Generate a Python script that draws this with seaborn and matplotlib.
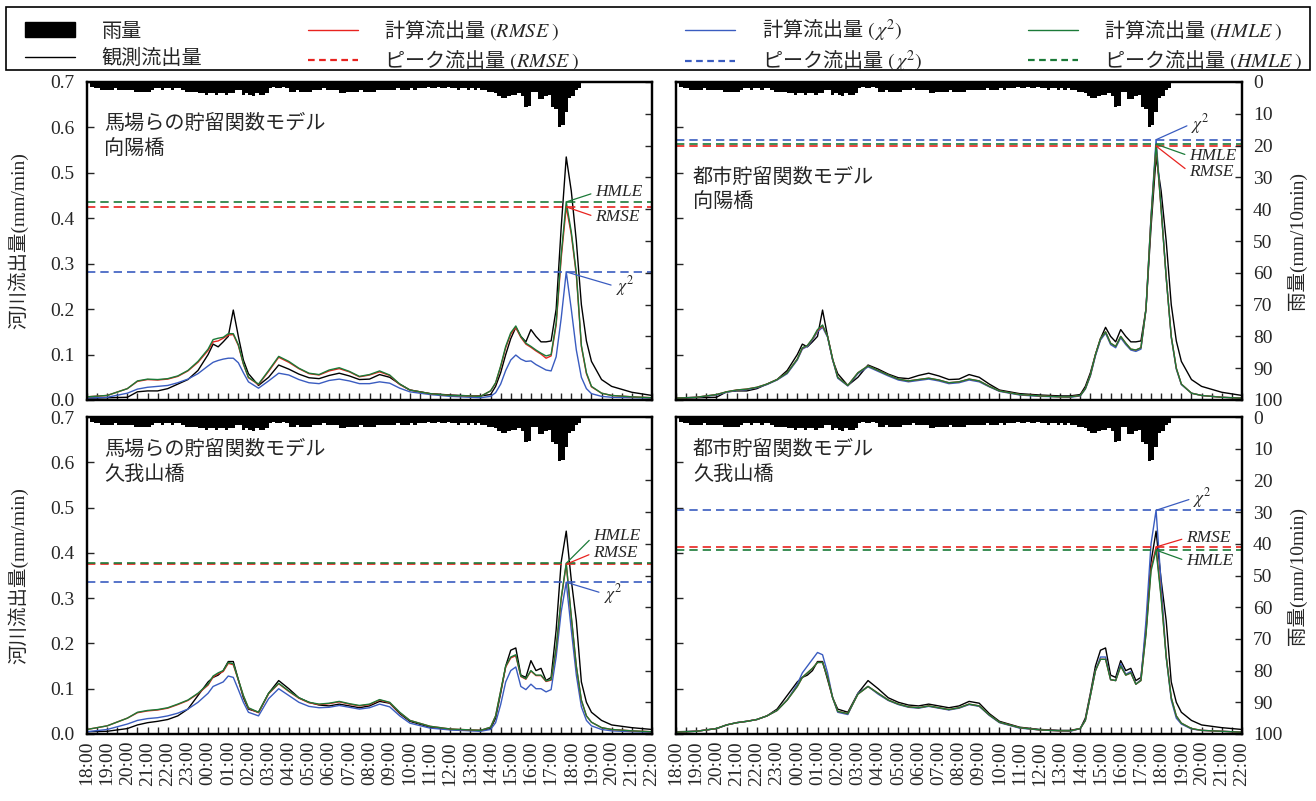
import numpy as np
import pandas as pd
import matplotlib
matplotlib.use("Agg")
import matplotlib.pyplot as plt
from matplotlib.patches import Patch, Rectangle
from matplotlib.lines import Line2D
from matplotlib.font_manager import FontProperties
from matplotlib.ticker import FormatStrFormatter
import seaborn as sns

sns.set_theme(style="ticks")
plt.rcParams['font.family'] = ['Liberation Serif', 'Noto Sans CJK JP']
plt.rcParams['mathtext.fontset'] = 'stix'
plt.rcParams['axes.unicode_minus'] = False

# hours after 18:00 (shared time grid of the flow series)
hours = [0, 1, 2, 2.5, 3, 3.5, 4,
         4.5, 5, 5.5, 6, 6.25, 6.5, 6.75, 7,
         7.25, 7.5, 7.75, 8, 8.5, 9, 9.5, 10,
         10.5, 11, 11.5, 12, 12.5, 13, 13.5, 14,
         14.5, 15, 15.5, 16, 17, 18, 19, 19.5,
         20, 20.25, 20.5, 20.75, 21, 21.25, 21.5, 21.75,
         22, 22.25, 22.5, 22.75, 23, 23.25, 23.5, 23.75,
         24, 24.25, 24.5, 24.75, 25, 25.5, 26, 27, 28]

time_labels = ["18:00", "19:00", "20:00", "21:00", "22:00", "23:00", "00:00",
               "01:00", "02:00", "03:00", "04:00", "05:00", "06:00", "07:00",
               "08:00", "09:00", "10:00", "11:00", "12:00", "13:00", "14:00",
               "15:00", "16:00", "17:00", "18:00", "19:00", "20:00", "21:00", "22:00"]

# rainfall, mm per 10 min, from 18:00
rain_mm = [0.0, 1.5, 2.0, 2.0, 2.5, 2.5,
           2.5, 2.5, 2.0, 2.5, 2.5, 2.5,
           2.5, 2.5, 3.0, 3.0, 3.0, 3.0,
           3.0, 2.5, 2.0, 2.0, 2.5, 2.0,
           2.0, 2.5, 2.0, 2.0, 2.5, 3.0,
           3.0, 3.0, 3.0, 3.5, 3.5, 4.0,
           3.5, 3.5, 4.0, 3.5, 3.5, 4.0,
           3.5, 3.5, 2.5, 2.5, 4.0, 3.5,
           4.0, 4.5, 3.5, 4.0, 4.0, 3.5,
           2.0, 1.5, 2.0, 2.0, 1.5, 2.0,
           3.0, 3.0, 2.5, 3.0, 3.0, 3.0,
           3.0, 2.5, 2.5, 2.5, 2.0, 2.5,
           2.5, 2.5, 2.5, 3.5, 3.5, 3.0,
           3.0, 3.0, 3.0, 2.5, 3.0, 3.0,
           3.0, 3.0, 2.5, 2.5, 2.5, 2.5,
           2.5, 2.5, 2.0, 2.5, 2.5, 2.5,
           2.0, 2.5, 2.0, 2.0, 2.0, 1.5,
           2.0, 2.0, 1.5, 2.0, 2.0, 1.5,
           2.0, 2.0, 2.5, 2.0, 2.0, 2.5,
           2.0, 2.5, 2.0, 2.5, 2.5, 3.0,
           3.0, 3.5, 4.5, 5.0, 5.0, 4.5,
           4.0, 4.0, 3.5, 4.5, 8.0, 7.5,
           3.0, 3.0, 5.5, 5.5, 4.5, 4.0,
           8.0, 8.5, 14.0, 13.5, 9.5, 5.0,
           4.5, 2.5, 2.0, 0.0, 0.0, 0.0]

# observed discharge (mm/min)
obs_kouyou = [0.004, 0.005, 0.006, 0.018, 0.020, 0.020, 0.025,
              0.035, 0.045, 0.065, 0.100, 0.123, 0.117, 0.128, 0.140,
              0.198, 0.140, 0.088, 0.058, 0.032, 0.050, 0.077, 0.068,
              0.057, 0.049, 0.047, 0.054, 0.059, 0.053, 0.045, 0.046,
              0.056, 0.050, 0.035, 0.022, 0.014, 0.011, 0.009, 0.009,
              0.012, 0.030, 0.060, 0.100, 0.135, 0.160, 0.140, 0.128,
              0.155, 0.140, 0.128, 0.128, 0.130, 0.200, 0.380, 0.535,
              0.460, 0.350, 0.210, 0.130, 0.085, 0.045, 0.030, 0.017, 0.010]
obs_kugayama = [0.005, 0.006, 0.012, 0.020, 0.025, 0.028, 0.032,
                0.040, 0.055, 0.085, 0.115, 0.125, 0.130, 0.140, 0.160,
                0.160, 0.120, 0.080, 0.055, 0.048, 0.090, 0.118, 0.100,
                0.080, 0.070, 0.064, 0.062, 0.066, 0.062, 0.058, 0.062,
                0.072, 0.068, 0.045, 0.028, 0.015, 0.010, 0.008, 0.008,
                0.012, 0.035, 0.090, 0.150, 0.185, 0.190, 0.130, 0.125,
                0.162, 0.140, 0.145, 0.118, 0.125, 0.230, 0.380, 0.448,
                0.340, 0.250, 0.115, 0.070, 0.048, 0.030, 0.020, 0.014, 0.010]

# Baba storage function model, Kouyou bridge
tl_rmse = [0.007, 0.010, 0.025, 0.041, 0.045, 0.044, 0.046,
           0.052, 0.064, 0.083, 0.109, 0.128, 0.130, 0.136, 0.143,
           0.144, 0.120, 0.079, 0.049, 0.034, 0.063, 0.094, 0.083,
           0.069, 0.058, 0.055, 0.064, 0.069, 0.062, 0.051, 0.055,
           0.062, 0.054, 0.034, 0.022, 0.014, 0.010, 0.009, 0.008,
           0.020, 0.037, 0.073, 0.115, 0.145, 0.160, 0.138, 0.123,
           0.116, 0.108, 0.101, 0.092, 0.097, 0.165, 0.312, 0.425,
           0.365, 0.275, 0.118, 0.058, 0.029, 0.015, 0.010, 0.007, 0.005]
tl_chi2 = [0.004, 0.006, 0.015, 0.024, 0.028, 0.030, 0.032,
           0.038, 0.046, 0.058, 0.075, 0.083, 0.087, 0.090, 0.092,
           0.092, 0.082, 0.060, 0.040, 0.026, 0.042, 0.059, 0.055,
           0.045, 0.038, 0.036, 0.043, 0.046, 0.042, 0.036, 0.036,
           0.040, 0.037, 0.026, 0.018, 0.012, 0.008, 0.006, 0.005,
           0.008, 0.016, 0.035, 0.065, 0.088, 0.099, 0.090, 0.085,
           0.086, 0.078, 0.072, 0.066, 0.064, 0.095, 0.180, 0.282,
           0.200, 0.110, 0.050, 0.025, 0.014, 0.008, 0.006, 0.005, 0.004]
tl_hmle = [0.007, 0.010, 0.025, 0.042, 0.046, 0.045, 0.047,
           0.053, 0.065, 0.085, 0.112, 0.133, 0.136, 0.138, 0.146,
           0.146, 0.122, 0.080, 0.050, 0.035, 0.065, 0.096, 0.085,
           0.070, 0.059, 0.056, 0.066, 0.071, 0.063, 0.052, 0.056,
           0.064, 0.055, 0.035, 0.022, 0.014, 0.010, 0.009, 0.008,
           0.020, 0.038, 0.075, 0.118, 0.148, 0.163, 0.140, 0.125,
           0.118, 0.110, 0.103, 0.097, 0.100, 0.170, 0.320, 0.436,
           0.370, 0.280, 0.120, 0.060, 0.030, 0.015, 0.010, 0.007, 0.005]

# urban storage function model, Kouyou bridge
tr_rmse = [0.004, 0.006, 0.012, 0.018, 0.022, 0.024, 0.028,
           0.035, 0.045, 0.060, 0.090, 0.114, 0.120, 0.134, 0.153,
           0.163, 0.140, 0.090, 0.050, 0.032, 0.060, 0.075, 0.065,
           0.055, 0.046, 0.042, 0.045, 0.048, 0.044, 0.038, 0.040,
           0.046, 0.042, 0.030, 0.020, 0.012, 0.009, 0.007, 0.007,
           0.010, 0.025, 0.055, 0.100, 0.135, 0.150, 0.125, 0.118,
           0.140, 0.125, 0.112, 0.110, 0.115, 0.200, 0.400, 0.559,
           0.420, 0.270, 0.140, 0.070, 0.035, 0.015, 0.010, 0.006, 0.004]
tr_chi2 = [0.004, 0.006, 0.011, 0.017, 0.021, 0.023, 0.027,
           0.034, 0.044, 0.058, 0.088, 0.112, 0.118, 0.132, 0.150,
           0.160, 0.138, 0.088, 0.048, 0.031, 0.058, 0.073, 0.063,
           0.053, 0.044, 0.040, 0.043, 0.046, 0.042, 0.036, 0.038,
           0.044, 0.040, 0.029, 0.019, 0.011, 0.008, 0.007, 0.006,
           0.009, 0.024, 0.053, 0.097, 0.132, 0.147, 0.122, 0.115,
           0.137, 0.122, 0.110, 0.107, 0.112, 0.200, 0.405, 0.573,
           0.425, 0.270, 0.138, 0.068, 0.034, 0.015, 0.010, 0.006, 0.004]
tr_hmle = [0.004, 0.006, 0.012, 0.018, 0.022, 0.024, 0.028,
           0.035, 0.045, 0.060, 0.090, 0.115, 0.120, 0.135, 0.155,
           0.165, 0.140, 0.090, 0.050, 0.032, 0.060, 0.075, 0.065,
           0.055, 0.046, 0.042, 0.045, 0.048, 0.044, 0.038, 0.040,
           0.046, 0.042, 0.030, 0.020, 0.012, 0.009, 0.007, 0.007,
           0.010, 0.025, 0.055, 0.100, 0.135, 0.150, 0.125, 0.118,
           0.140, 0.125, 0.112, 0.110, 0.115, 0.200, 0.400, 0.563,
           0.420, 0.270, 0.140, 0.070, 0.035, 0.015, 0.010, 0.006, 0.004]

# Baba storage function model, Kugayama bridge
bl_rmse = [0.010, 0.018, 0.035, 0.047, 0.051, 0.053, 0.057,
           0.065, 0.074, 0.089, 0.108, 0.126, 0.133, 0.138, 0.156,
           0.153, 0.119, 0.084, 0.057, 0.047, 0.089, 0.111, 0.094,
           0.079, 0.069, 0.065, 0.067, 0.071, 0.066, 0.062, 0.065,
           0.075, 0.069, 0.047, 0.030, 0.017, 0.011, 0.009, 0.008,
           0.015, 0.040, 0.094, 0.148, 0.168, 0.173, 0.127, 0.121,
           0.139, 0.129, 0.129, 0.116, 0.119, 0.188, 0.298, 0.375,
           0.258, 0.149, 0.074, 0.040, 0.026, 0.014, 0.010, 0.007, 0.005]
bl_chi2 = [0.005, 0.010, 0.022, 0.030, 0.034, 0.036, 0.040,
           0.046, 0.055, 0.070, 0.090, 0.105, 0.110, 0.115, 0.128,
           0.125, 0.098, 0.070, 0.048, 0.040, 0.078, 0.100, 0.085,
           0.070, 0.061, 0.058, 0.059, 0.063, 0.059, 0.055, 0.058,
           0.066, 0.060, 0.040, 0.024, 0.013, 0.009, 0.007, 0.006,
           0.010, 0.025, 0.065, 0.115, 0.140, 0.148, 0.105, 0.098,
           0.110, 0.100, 0.100, 0.093, 0.098, 0.170, 0.270, 0.335,
           0.230, 0.130, 0.060, 0.030, 0.018, 0.010, 0.007, 0.005, 0.004]
bl_hmle = [0.010, 0.018, 0.035, 0.048, 0.052, 0.054, 0.058,
           0.066, 0.075, 0.090, 0.110, 0.128, 0.135, 0.140, 0.158,
           0.155, 0.120, 0.085, 0.058, 0.048, 0.090, 0.112, 0.095,
           0.080, 0.070, 0.066, 0.068, 0.072, 0.067, 0.063, 0.066,
           0.076, 0.070, 0.048, 0.030, 0.017, 0.011, 0.009, 0.008,
           0.015, 0.040, 0.095, 0.150, 0.170, 0.175, 0.128, 0.122,
           0.140, 0.130, 0.130, 0.117, 0.120, 0.190, 0.300, 0.377,
           0.260, 0.150, 0.075, 0.040, 0.026, 0.014, 0.010, 0.007, 0.005]

# urban storage function model, Kugayama bridge
br_rmse = [0.004, 0.006, 0.012, 0.020, 0.025, 0.028, 0.032,
           0.040, 0.052, 0.075, 0.105, 0.125, 0.135, 0.145, 0.158,
           0.158, 0.125, 0.080, 0.050, 0.045, 0.088, 0.105, 0.090,
           0.075, 0.066, 0.060, 0.058, 0.062, 0.058, 0.054, 0.058,
           0.066, 0.062, 0.042, 0.026, 0.014, 0.009, 0.007, 0.007,
           0.012, 0.030, 0.085, 0.140, 0.165, 0.165, 0.120, 0.118,
           0.150, 0.130, 0.135, 0.110, 0.118, 0.222, 0.365, 0.413,
           0.305, 0.172, 0.080, 0.040, 0.024, 0.012, 0.008, 0.006, 0.004]
br_chi2 = [0.004, 0.006, 0.012, 0.020, 0.025, 0.028, 0.032,
           0.040, 0.052, 0.075, 0.110, 0.135, 0.150, 0.165, 0.180,
           0.175, 0.135, 0.080, 0.048, 0.043, 0.090, 0.105, 0.088,
           0.074, 0.065, 0.059, 0.057, 0.061, 0.057, 0.053, 0.057,
           0.065, 0.061, 0.041, 0.025, 0.013, 0.009, 0.007, 0.006,
           0.012, 0.030, 0.085, 0.140, 0.170, 0.170, 0.120, 0.118,
           0.155, 0.132, 0.138, 0.110, 0.120, 0.250, 0.420, 0.494,
           0.330, 0.170, 0.075, 0.035, 0.022, 0.011, 0.008, 0.006, 0.004]
br_hmle = [0.004, 0.006, 0.012, 0.020, 0.025, 0.028, 0.032,
           0.040, 0.052, 0.075, 0.105, 0.125, 0.135, 0.145, 0.158,
           0.158, 0.125, 0.080, 0.050, 0.045, 0.088, 0.105, 0.090,
           0.075, 0.066, 0.060, 0.058, 0.062, 0.058, 0.054, 0.058,
           0.066, 0.062, 0.042, 0.026, 0.014, 0.009, 0.007, 0.007,
           0.012, 0.030, 0.085, 0.140, 0.165, 0.165, 0.120, 0.118,
           0.150, 0.130, 0.135, 0.110, 0.118, 0.220, 0.360, 0.406,
           0.300, 0.170, 0.080, 0.040, 0.024, 0.012, 0.008, 0.006, 0.004]

colors = {"obs": "black", "chi2": "#3a5cc0", "rmse": "#e8231f", "hmle": "#1b7a38"}
dash = (0, (5, 3))
W, H = 1316, 801


def box(x0, y0, x1, y1):
    return [x0 / W, 1 - y1 / H, (x1 - x0) / W, (y1 - y0) / H]


def draw_panel(ax, obs, rmse, chi2, hmle, title, title_y, notes, left, bottom):
    rain_ax = ax.twinx()
    rain_t = np.arange(len(rain_mm)) / 6
    rain_ax.bar(rain_t, rain_mm, width=1 / 6, align="edge", color="black", linewidth=0)
    rain_ax.set_ylim(100, 0)
    rain_ax.set_yticks(range(0, 101, 10))
    rain_ax.tick_params(axis="y", direction="in", length=5, width=1, pad=8,
                        labelsize=14, labelright=not left)

    series = {"obs": obs, "chi2": chi2, "rmse": rmse, "hmle": hmle}
    df = pd.DataFrame({"t": hours, **series})
    long = df.melt(id_vars="t", var_name="series", value_name="q")
    sns.lineplot(data=long, x="t", y="q", hue="series", palette=colors,
                 hue_order=["obs", "chi2", "rmse", "hmle"], linewidth=1.0,
                 legend=False, ax=ax)
    for key in ["chi2", "rmse", "hmle"]:
        ax.axhline(max(series[key]), color=colors[key], ls=dash, lw=1.2)

    for label, key, xt, yt in notes:
        i = int(np.argmax(series[key]))
        ax.annotate(label, xy=(hours[i], series[key][i]), xytext=(xt, yt),
                    fontsize=12.5, style="italic", ha="left", va="center",
                    family="Liberation Serif",
                    arrowprops=dict(arrowstyle="-", color=colors[key], lw=0.9,
                                    shrinkA=1, shrinkB=0, relpos=(0, 0.5)))

    ax.text(0.03, title_y, title, transform=ax.transAxes, fontsize=14.5,
            va="top", ha="left", linespacing=1.4)

    ax.set_xlim(0, 28)
    ax.set_ylim(0, 0.7)
    ax.set_xticks(np.arange(0, 29))
    ax.set_xticks(np.arange(0, 28.5, 0.5), minor=True)
    ax.set_xticklabels(time_labels, rotation=90)
    ax.set_yticks(np.arange(0, 0.71, 0.1))
    ax.yaxis.set_major_formatter(FormatStrFormatter("%.1f"))
    ax.tick_params(axis="x", which="both", direction="in", length=5, width=1,
                   labelsize=14, pad=5, labelbottom=bottom)
    ax.tick_params(axis="y", direction="in", length=5, width=1, pad=9,
                   labelsize=14, labelleft=left)
    ax.set_xlabel("")
    ax.set_ylabel("")
    for a in (ax, rain_ax):
        for sp in a.spines.values():
            sp.set_color("black")
            sp.set_linewidth(1.6)


fig = plt.figure(figsize=(13.16, 8.01), dpi=100)
ax_tl = fig.add_axes(box(87, 82, 652, 400))
ax_tr = fig.add_axes(box(676, 82, 1242, 400))
ax_bl = fig.add_axes(box(87, 417, 652, 734))
ax_br = fig.add_axes(box(676, 417, 1242, 734))

draw_panel(ax_tl, obs_kouyou, tl_rmse, tl_chi2, tl_hmle,
           "馬場らの貯留関数モデル\n向陽橋", 0.897,
           [("HMLE", "hmle", 25.2, 0.457), ("RMSE", "rmse", 25.2, 0.403),
            (r"$\chi^2$", "chi2", 26.2, 0.25)], True, False)
draw_panel(ax_tr, obs_kouyou, tr_rmse, tr_chi2, tr_hmle,
           "都市貯留関数モデル\n向陽橋", 0.728,
           [(r"$\chi^2$", "chi2", 25.5, 0.608), ("HMLE", "hmle", 25.4, 0.537),
            ("RMSE", "rmse", 25.4, 0.502)], False, False)
draw_panel(ax_bl, obs_kugayama, bl_rmse, bl_chi2, bl_hmle,
           "馬場らの貯留関数モデル\n久我山橋", 0.925,
           [("HMLE", "hmle", 25.1, 0.437), ("RMSE", "rmse", 25.1, 0.40),
            (r"$\chi^2$", "chi2", 25.6, 0.31)], True, True)
draw_panel(ax_br, obs_kugayama, br_rmse, br_chi2, br_hmle,
           "都市貯留関数モデル\n久我山橋", 0.925,
           [(r"$\chi^2$", "chi2", 25.6, 0.521), ("RMSE", "rmse", 25.25, 0.433),
            ("HMLE", "hmle", 25.25, 0.382)], False, True)

for yc in (241, 576):
    fig.text(18 / W, 1 - yc / H, "河川流出量(mm/min)", rotation=90,
             ha="center", va="center", fontsize=14)
    fig.text(1297 / W, 1 - yc / H, "雨量(mm/10min)", rotation=90,
             ha="center", va="center", fontsize=14)

# legend frame drawn separately so the entries can sit inset from it
fig.patches.append(Rectangle((6 / W, 1 - 70 / H), 1304 / W, 63 / H,
                             transform=fig.transFigure, fill=False,
                             edgecolor="black", linewidth=1.2))

handles = [Patch(facecolor="black", edgecolor="black"),
           Line2D([], [], color="black", lw=1.0),
           Line2D([], [], color=colors["rmse"], lw=1.0),
           Line2D([], [], color=colors["rmse"], lw=1.6, ls=(0, (3, 2))),
           Line2D([], [], color=colors["chi2"], lw=1.0),
           Line2D([], [], color=colors["chi2"], lw=1.6, ls=(0, (3, 2))),
           Line2D([], [], color=colors["hmle"], lw=1.0),
           Line2D([], [], color=colors["hmle"], lw=1.6, ls=(0, (3, 2)))]
labels = ["雨量", "観測流出量",
          r"計算流出量 $(\mathit{RMSE}\;)$", r"ピーク流出量 $(\mathit{RMSE}\;)$",
          r"計算流出量 $(\,\chi^{2})$", r"ピーク流出量 $(\,\chi^{2})$",
          r"計算流出量 $(\mathit{HMLE}\;)$", r"ピーク流出量 $(\mathit{HMLE}\;)$"]
leg = fig.legend(handles, labels, ncol=4, loc="center", mode="expand",
                 bbox_to_anchor=(25 / W, 1 - 73 / H, 1278 / W, 54 / H),
                 prop=FontProperties(family="Noto Sans CJK JP", size=14.5),
                 frameon=False, handlelength=2.5, handleheight=0.75,
                 handletextpad=1.3, labelspacing=0.3, borderpad=0,
                 borderaxespad=0)

fig.savefig("out.png", dpi=100, facecolor="white")
